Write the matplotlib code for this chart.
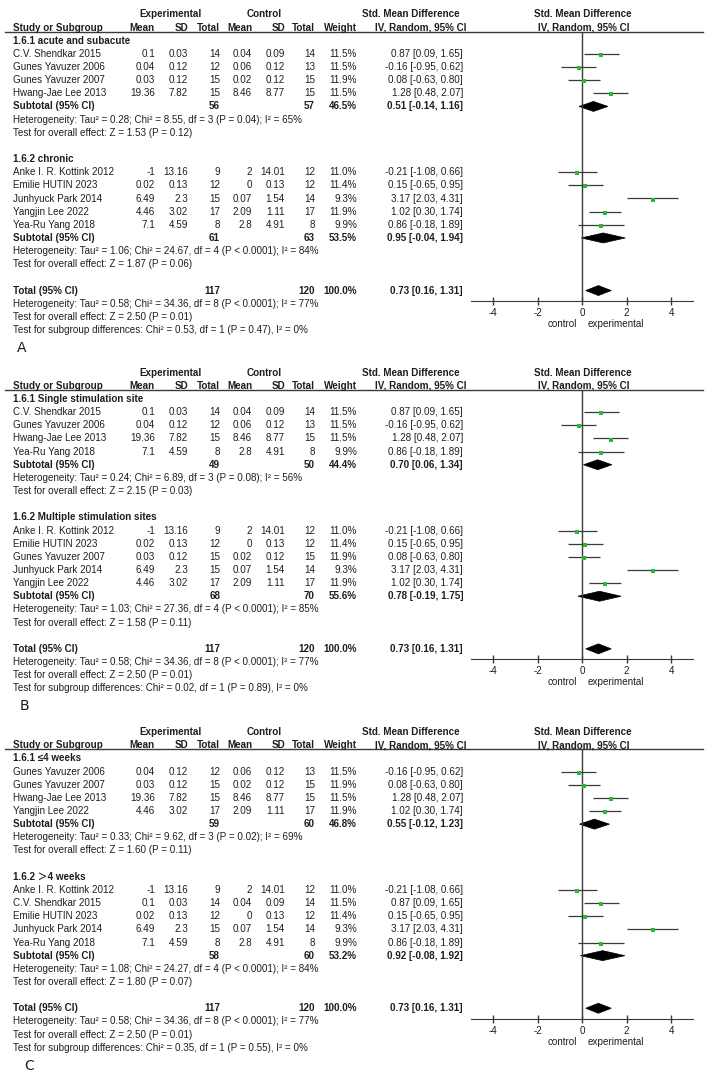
import matplotlib.pyplot as plt
from matplotlib.patches import Polygon

plt.rcParams['font.family'] = ['Liberation Sans', 'Noto Sans CJK SC']

# study level data (weights are from the overall analysis, same in every panel)
study_names = ['C.V. Shendkar 2015', 'Gunes Yavuzer 2006', 'Gunes Yavuzer 2007',
               'Hwang-Jae Lee 2013', 'Anke I. R. Kottink 2012', 'Emilie HUTIN 2023',
               'Junhyuck Park 2014', 'Yangjin Lee 2022', 'Yea-Ru Yang 2018']
exp_mean = [0.1, 0.04, 0.03, 19.36, -1, 0.02, 6.49, 4.46, 7.1]
exp_sd = [0.03, 0.12, 0.12, 7.82, 13.16, 0.13, 2.3, 3.02, 4.59]
exp_n = [14, 12, 15, 15, 9, 12, 15, 17, 8]
ctl_mean = [0.04, 0.06, 0.02, 8.46, 2, 0, 0.07, 2.09, 2.8]
ctl_sd = [0.09, 0.12, 0.12, 8.77, 14.01, 0.13, 1.54, 1.11, 4.91]
ctl_n = [14, 13, 15, 15, 12, 12, 14, 17, 8]
weight = [11.5, 11.5, 11.9, 11.5, 11.0, 11.4, 9.3, 11.9, 9.9]
smd = [0.87, -0.16, 0.08, 1.28, -0.21, 0.15, 3.17, 1.02, 0.86]
smd_lo = [0.09, -0.95, -0.63, 0.48, -1.08, -0.65, 2.03, 0.30, -0.18]
smd_hi = [1.65, 0.62, 0.80, 2.07, 0.66, 0.95, 4.31, 1.74, 1.89]

# overall result (same in all three panels)
total_n = (117, 120)
total_smd = (0.73, 0.16, 1.31)
total_het = 'Heterogeneity: Tau² = 0.58; Chi² = 34.36, df = 8 (P < 0.0001); I² = 77%'
total_z = 'Test for overall effect: Z = 2.50 (P = 0.01)'

# panel A: stage
a_titles = ['1.6.1 acute and subacute', '1.6.2 chronic']
a_members = [['C.V. Shendkar 2015', 'Gunes Yavuzer 2006', 'Gunes Yavuzer 2007', 'Hwang-Jae Lee 2013'],
             ['Anke I. R. Kottink 2012', 'Emilie HUTIN 2023', 'Junhyuck Park 2014',
              'Yangjin Lee 2022', 'Yea-Ru Yang 2018']]
a_sub_n = [(56, 57), (61, 63)]
a_sub_w = [46.5, 53.5]
a_sub_smd = [(0.51, -0.14, 1.16), (0.95, -0.04, 1.94)]
a_het = ['Tau² = 0.28; Chi² = 8.55, df = 3 (P = 0.04); I² = 65%',
         'Tau² = 1.06; Chi² = 24.67, df = 4 (P < 0.0001); I² = 84%']
a_z = ['Z = 1.53 (P = 0.12)', 'Z = 1.87 (P = 0.06)']
a_subtest = 'Chi² = 0.53, df = 1 (P = 0.47), I² = 0%'

# panel B: stimulation sites
b_titles = ['1.6.1 Single stimulation site', '1.6.2 Multiple stimulation sites']
b_members = [['C.V. Shendkar 2015', 'Gunes Yavuzer 2006', 'Hwang-Jae Lee 2013', 'Yea-Ru Yang 2018'],
             ['Anke I. R. Kottink 2012', 'Emilie HUTIN 2023', 'Gunes Yavuzer 2007',
              'Junhyuck Park 2014', 'Yangjin Lee 2022']]
b_sub_n = [(49, 50), (68, 70)]
b_sub_w = [44.4, 55.6]
b_sub_smd = [(0.70, 0.06, 1.34), (0.78, -0.19, 1.75)]
b_het = ['Tau² = 0.24; Chi² = 6.89, df = 3 (P = 0.08); I² = 56%',
         'Tau² = 1.03; Chi² = 27.36, df = 4 (P < 0.0001); I² = 85%']
b_z = ['Z = 2.15 (P = 0.03)', 'Z = 1.58 (P = 0.11)']
b_subtest = 'Chi² = 0.02, df = 1 (P = 0.89), I² = 0%'

# panel C: duration
c_titles = ['1.6.1 ≤4 weeks', '1.6.2 ＞4 weeks']
c_members = [['Gunes Yavuzer 2006', 'Gunes Yavuzer 2007', 'Hwang-Jae Lee 2013', 'Yangjin Lee 2022'],
             ['Anke I. R. Kottink 2012', 'C.V. Shendkar 2015', 'Emilie HUTIN 2023',
              'Junhyuck Park 2014', 'Yea-Ru Yang 2018']]
c_sub_n = [(59, 60), (58, 60)]
c_sub_w = [46.8, 53.2]
c_sub_smd = [(0.55, -0.12, 1.23), (0.92, -0.08, 1.92)]
c_het = ['Tau² = 0.33; Chi² = 9.62, df = 3 (P = 0.02); I² = 69%',
         'Tau² = 1.08; Chi² = 24.27, df = 4 (P < 0.0001); I² = 84%']
c_z = ['Z = 1.60 (P = 0.11)', 'Z = 1.80 (P = 0.07)']
c_subtest = 'Chi² = 0.35, df = 1 (P = 0.55), I² = 0%'

W, H = 720, 1084
FS = 7.1
ROW0, PITCH = 40.7, 13.15      # first row centre / row pitch (px, inside a panel)
TOP_RULE, AXIS_Y = 31.7, 301   # header rule and x axis (px, inside a panel)
AX_L, AX_R = 471, 693.3
TXT = '#1e1e1e'
LINE = '#3a3a3a'
GREEN = '#2db82d'

fig = plt.figure(figsize=(W / 100, H / 100), dpi=100)
bg = fig.add_axes([0, 0, 1, 1])
bg.set_xlim(0, W)
bg.set_ylim(H, 0)
bg.axis('off')


def txt(x, y, s, ha='left', bold=False):
    bg.text(x, y, s, ha=ha, va='center', fontsize=FS, color=TXT,
            fontweight='bold' if bold else 'normal')


def fmt_ci(e, lo, hi):
    return f'{e:.2f} [{lo:.2f}, {hi:.2f}]'


def diamond(ax, r, e, lo, hi, h=0.38):
    ax.add_patch(Polygon([(lo, r), (e, r - h), (hi, r), (e, r + h)],
                         closed=True, facecolor='black', edgecolor='black', lw=0.5))


def draw_panel(off, letter, letter_x, titles, members, sub_n, sub_w, sub_smd, het, z, subtest):
    def y(r):
        return off + ROW0 + PITCH * r

    # headers
    txt(170, y(-2), 'Experimental', 'center', True)
    txt(264, y(-2), 'Control', 'center', True)
    txt(411, y(-2), 'Std. Mean Difference', 'center', True)
    txt(582.5, y(-2), 'Std. Mean Difference', 'center', True)
    txt(13, y(-1), 'Study or Subgroup', bold=True)
    for xr, lab in zip([155, 188, 220, 252, 285, 315, 357],
                       ['Mean', 'SD', 'Total', 'Mean', 'SD', 'Total', 'Weight']):
        txt(xr, y(-1), lab, 'right', True)
    txt(421, y(-1), 'IV, Random, 95% CI', 'center', True)
    txt(584, y(-1), 'IV, Random, 95% CI', 'center', True)
    bg.plot([5, 703], [off + TOP_RULE] * 2, color=LINE, lw=1)

    # forest plot area
    top, bot = off + TOP_RULE, off + AXIS_Y
    ax = fig.add_axes([AX_L / W, 1 - bot / H, (AX_R - AX_L) / W, (bot - top) / H])
    ax.set_xlim(-5, 5)
    ax.set_ylim((AXIS_Y - ROW0) / PITCH, (TOP_RULE - ROW0) / PITCH)
    ax.patch.set_alpha(0)
    for s in ['top', 'left', 'right']:
        ax.spines[s].set_visible(False)
    ax.spines['bottom'].set_color(LINE)
    ax.set_xticks([-4, -2, 0, 2, 4])
    ax.set_xticklabels(['-4', '-2', '0', '2', '4'])
    ax.tick_params(axis='x', direction='inout', length=6, width=1, colors=LINE,
                   labelcolor=TXT, labelsize=FS, pad=2)
    ax.set_yticks([])
    ax.axvline(0, color=LINE, lw=1)

    r = 0
    for g in range(2):
        txt(13, y(r), titles[g], bold=True)
        r += 1
        for name in members[g]:
            i = study_names.index(name)
            txt(13, y(r), name)
            txt(155, y(r), f'{exp_mean[i]:g}', 'right')
            txt(188, y(r), f'{exp_sd[i]:g}', 'right')
            txt(220, y(r), str(exp_n[i]), 'right')
            txt(252, y(r), f'{ctl_mean[i]:g}', 'right')
            txt(285, y(r), f'{ctl_sd[i]:g}', 'right')
            txt(315, y(r), str(ctl_n[i]), 'right')
            txt(357, y(r), f'{weight[i]:.1f}%', 'right')
            txt(463, y(r), fmt_ci(smd[i], smd_lo[i], smd_hi[i]), 'right')
            ax.plot([smd_lo[i], smd_hi[i]], [r, r], color=LINE, lw=0.9, solid_capstyle='butt')
            ax.plot(smd[i], r + 0.08, 's', color=GREEN, markersize=2.2, markeredgewidth=0)
            r += 1
        txt(13, y(r), 'Subtotal (95% CI)', bold=True)
        txt(220, y(r), str(sub_n[g][0]), 'right', True)
        txt(315, y(r), str(sub_n[g][1]), 'right', True)
        txt(357, y(r), f'{sub_w[g]:.1f}%', 'right', True)
        txt(463, y(r), fmt_ci(*sub_smd[g]), 'right', True)
        diamond(ax, r, *sub_smd[g])
        r += 1
        txt(13, y(r), 'Heterogeneity: ' + het[g])
        r += 1
        txt(13, y(r), 'Test for overall effect: ' + z[g])
        r += 2

    txt(13, y(r), 'Total (95% CI)', bold=True)
    txt(220, y(r), str(total_n[0]), 'right', True)
    txt(315, y(r), str(total_n[1]), 'right', True)
    txt(357, y(r), '100.0%', 'right', True)
    txt(463, y(r), fmt_ci(*total_smd), 'right', True)
    diamond(ax, r, *total_smd)
    txt(13, y(r + 1), total_het)
    txt(13, y(r + 2), total_z)
    txt(13, y(r + 3), 'Test for subgroup differences: ' + subtest)

    txt(577, off + 324, 'control', 'right')
    txt(588, off + 324, 'experimental')
    bg.text(letter_x, off + 348, letter, ha='center', va='center', fontsize=10,
            family='DejaVu Sans', color=TXT)


draw_panel(0, 'A', 22, a_titles, a_members, a_sub_n, a_sub_w, a_sub_smd, a_het, a_z, a_subtest)
draw_panel(358.3, 'B', 24, b_titles, b_members, b_sub_n, b_sub_w, b_sub_smd, b_het, b_z, b_subtest)
draw_panel(717.7, 'C', 29, c_titles, c_members, c_sub_n, c_sub_w, c_sub_smd, c_het, c_z, c_subtest)

fig.savefig('out.png', dpi=100)
